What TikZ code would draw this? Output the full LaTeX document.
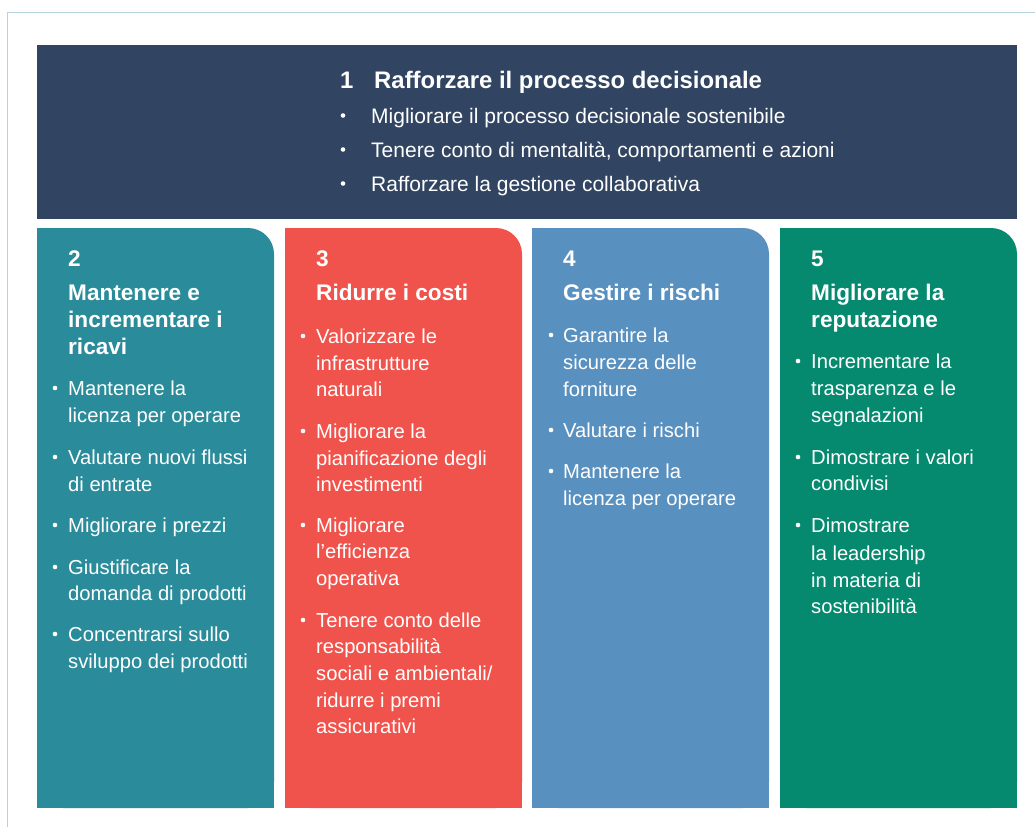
\documentclass[tikz,border=0pt]{standalone}
\usepackage{fontspec}
\setmainfont{Liberation Sans}
\definecolor{navy}{HTML}{314562}
\definecolor{cteal}{HTML}{2A8C9A}
\definecolor{cred}{HTML}{F0534B}
\definecolor{cblue}{HTML}{5890C0}
\definecolor{cgreen}{HTML}{058A70}
\definecolor{framec}{HTML}{B8D3E0}
\tikzset{
  body/.style={anchor=base west, inner sep=0pt, text=white, font=\fontsize{20.2}{24}\selectfont},
  topbody/.style={anchor=base west, inner sep=0pt, text=white, font=\fontsize{21}{24}\selectfont},
  head/.style={anchor=base west, inner sep=0pt, text=white, font=\bfseries\fontsize{22.6}{27}\selectfont},
  tophead/.style={anchor=base west, inner sep=0pt, text=white, font=\bfseries\fontsize{23.9}{27}\selectfont},
  dot/.style={fill=white},
}
\begin{document}
\begin{tikzpicture}[x=1pt,y=-1pt]
\useasboundingbox (0,0) rectangle (1035,827);
\fill[white] (0,0) rectangle (1035,827);
% outer frame
\draw[framec, line width=1.8pt] (7.5,827) -- (7.5,12.5) -- (1035,12.5);
% top box
\fill[navy] (37,45) rectangle (1017,219);
% columns with one rounded corner
\foreach \l/\c in {37/cteal,285/cred,532/cblue,780/cgreen}{
  \fill[\c, rounded corners=26pt] (\l,228) rectangle (\l+237,808);
  \fill[\c] (\l,228) rectangle (\l+150,808);
  \fill[\c] (\l,330) rectangle (\l+237,808);
}
% top box text
\node[tophead] (t1n) at (340,88) {1};
\node[tophead] (t1h) at (374,88) {Rafforzare il processo decisionale};
\foreach \y/\t [count=\i] in {123/{Migliorare il processo decisionale sostenibile},157/{Tenere conto di mentalità, comportamenti e azioni},191/{Rafforzare la gestione collaborativa}}{
  \fill[dot] (343,\y-7.5) circle (2.3);
  \node[topbody] (t1b\i) at (371,\y) {\t};
}
% column 2
\node[head] (c2n) at (68,266) {2};
\foreach \y/\t [count=\i] in {300/{Mantenere e},327/{incrementare i},354/{ricavi}}
  \node[head] (c2h\i) at (68,\y) {\t};
\foreach \y/\t [count=\i] in {395/{Mantenere la},422/{licenza per operare},464/{Valutare nuovi flussi},491/{di entrate},532/{Migliorare i prezzi},574/{Giustificare la},600/{domanda di prodotti},641/{Concentrarsi sullo},668/{sviluppo dei prodotti}}
  \node[body] (c2l\i) at (68,\y) {\t};
\foreach \y in {395,464,532,574,641}
  \fill[dot] (55,\y-7) circle (2.3);
% column 3
\node[head] (c3n) at (316,266) {3};
\node[head] (c3h1) at (316,300) {Ridurre i costi};
\foreach \y/\t [count=\i] in {343/{Valorizzare le},370/{infrastrutture},396/{naturali},438/{Migliorare la},465/{pianificazione degli},491/{investimenti},532/{Migliorare},558/{l’efficienza},585/{operativa},627/{Tenere conto delle},653/{responsabilità},680/{sociali e ambientali/},707/{ridurre i premi},733/{assicurativi}}
  \node[body] (c3l\i) at (316,\y) {\t};
\foreach \y in {343,438,532,627}
  \fill[dot] (303,\y-7) circle (2.3);
% column 4
\node[head] (c4n) at (563,266) {4};
\node[head] (c4h1) at (563,300) {Gestire i rischi};
\foreach \y/\t [count=\i] in {342/{Garantire la},369/{sicurezza delle},396/{forniture},437/{Valutare i rischi},478/{Mantenere la},505/{licenza per operare}}
  \node[body] (c4l\i) at (563,\y) {\t};
\foreach \y in {342,437,478}
  \fill[dot] (551,\y-7) circle (2.3);
% column 5
\node[head] (c5n) at (811,266) {5};
\foreach \y/\t [count=\i] in {300/{Migliorare la},327/{reputazione}}
  \node[head] (c5h\i) at (811,\y) {\t};
\foreach \y/\t [count=\i] in {368/{Incrementare la},395/{trasparenza e le},422/{segnalazioni},464/{Dimostrare i valori},490/{condivisi},532/{Dimostrare},560/{la leadership},587/{in materia di},613/{sostenibilità}}
  \node[body] (c5l\i) at (811,\y) {\t};
\foreach \y in {368,464,532}
  \fill[dot] (798,\y-7) circle (2.3);
\end{tikzpicture}
\end{document}
